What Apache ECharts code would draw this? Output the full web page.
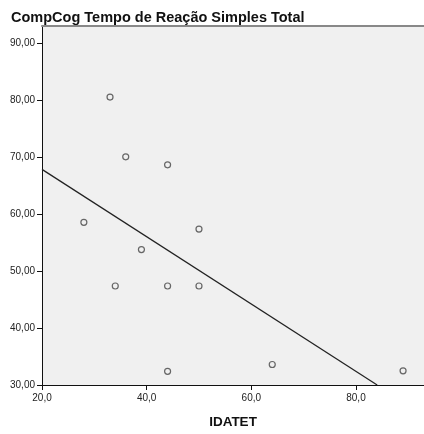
<!DOCTYPE html>
<html><head><meta charset="utf-8">
<script src="https://cdn.jsdelivr.net/npm/echarts@6/dist/echarts.min.js"></script>
<style>html,body{margin:0;padding:0;background:#fff;overflow:hidden}#c{width:424px;height:434px}</style>
</head><body><div id="c"></div>
<script>
var idatet = [33, 36, 44, 28, 50, 39, 34, 44, 50, 44, 64, 89];
var tempo = [80.6, 70.1, 68.7, 58.6, 57.4, 53.8, 47.4, 47.4, 47.4, 32.4, 33.6, 32.5];
var fitX = [20, 84.05];
var fitY = [67.9, 30];
var yTicks = [30, 40, 50, 60, 70, 80, 90];
var xTicks = [20, 40, 60, 80];

var pts = idatet.map(function (x, i) { return [x, tempo[i]]; });
var fit = fitX.map(function (x, i) { return [x, fitY[i]]; });
var font = 'Liberation Sans, Arial, sans-serif';
var chart = echarts.init(document.getElementById('c'), null, {renderer: 'canvas', width: 424, height: 434});
chart.setOption({
  animation: false,
  title: {text: 'CompCog Tempo de Reação Simples Total', left: 6, top: 5,
    textStyle: {fontFamily: font, fontSize: 14.5, fontWeight: 'bold', color: '#111'}},
  grid: {left: 42, right: 0, top: 26, bottom: 41, show: true, backgroundColor: '#f0f0f0', borderWidth: 0},
  xAxis: [{
    type: 'value', min: 20, max: 93, position: 'bottom',
    name: 'IDATET', nameLocation: 'middle', nameGap: 30,
    nameTextStyle: {fontFamily: font, fontSize: 13.5, fontWeight: 'bold', color: '#111'},
    axisLine: {show: true, lineStyle: {color: '#111', width: 1}},
    axisTick: {show: true, length: 5, customValues: xTicks, lineStyle: {color: '#111'}},
    axisLabel: {customValues: xTicks, margin: 8, fontFamily: font, fontSize: 10, color: '#222',
      formatter: function (v) { return v.toFixed(1).replace('.', ','); }},
    splitLine: {show: false}
  }, {
    type: 'value', min: 20, max: 93, position: 'top',
    axisLine: {show: true, lineStyle: {color: '#888', width: 2}},
    axisTick: {show: false}, axisLabel: {show: false}, splitLine: {show: false}
  }],
  yAxis: {
    type: 'value', min: 30, max: 93.1,
    axisLine: {show: true, lineStyle: {color: '#111', width: 1}},
    axisTick: {show: true, length: 5, customValues: yTicks, lineStyle: {color: '#111'}},
    axisLabel: {customValues: yTicks, margin: 7, fontFamily: font, fontSize: 10, color: '#222',
      formatter: function (v) { return v.toFixed(2).replace('.', ','); }},
    splitLine: {show: false}
  },
  series: [{
    type: 'line', data: fit, symbol: 'none', silent: true,
    lineStyle: {color: '#222', width: 1.2}
  }, {
    type: 'scatter', data: pts, symbol: 'circle', symbolSize: 6,
    itemStyle: {color: 'transparent', borderColor: '#444', borderWidth: 1.2}
  }]
});
</script></body></html>
